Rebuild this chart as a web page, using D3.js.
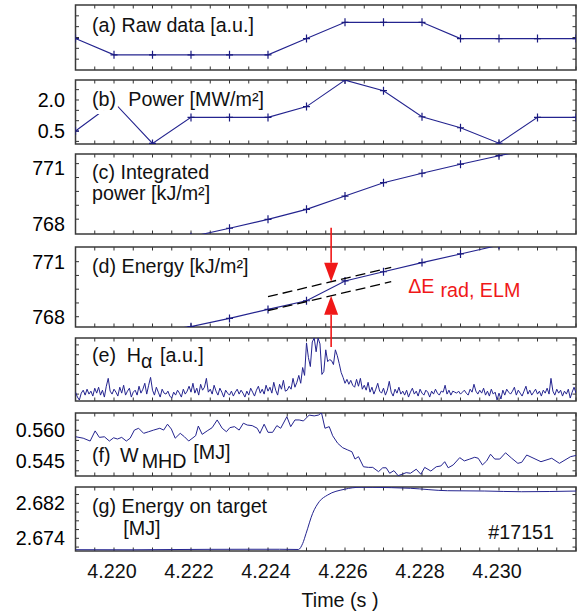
<!DOCTYPE html>
<html>
<head>
<meta charset="utf-8">
<script src="https://cdn.jsdelivr.net/npm/d3@7"></script>
<style>
  body { margin: 0; background: #fff; }
  svg { display: block; font-family: "Liberation Sans", Arial, Helvetica, sans-serif; }
</style>
</head>
<body>
<svg id="chart"></svg>
<script>
// slow signals (a)-(d): one sample per ms
const tSlow    = [4.219, 4.220, 4.221, 4.222, 4.223, 4.224, 4.225, 4.226, 4.227, 4.228, 4.229, 4.230, 4.231, 4.232];
const rawData  = [2.9, 1.4, 1.4, 1.4, 1.4, 1.4, 2.9, 4.4, 4.4, 4.4, 2.9, 2.9, 2.9, 2.9];
const power    = [0.5, 1.88, -0.1, 1.16, 1.16, 1.16, 1.68, 2.96, 2.45, 1.19, 0.66, -0.09, 1.16, 1.16];
const intPower = [766.4, 766.8, 767.0, 767.3, 767.76, 768.24, 768.78, 769.5, 770.22, 770.73, 771.22, 771.68, 772.1, 772.5];
const energy   = [766.6, 766.9, 767.2, 767.46, 767.91, 768.40, 768.87, 769.95, 770.45, 770.95, 771.42, 771.9, 772.3, 772.8];

// dashed fits in (d): [time, energy]
const dashUpper = [[4.2240, 769.09], [4.2272, 770.69]];
const dashLower = [[4.2240, 768.33], [4.2272, 769.91]];
const elmTime = 4.22564;
const arrowTails = [772.85, 766.35];

// H-alpha, sampled every 0.05 ms from 4.219 s
const haStart = 4.219, haStep = 0.00005;
const halpha = [
  0.45,0.2,0.05,0.4,0.55,0.3,0.6,0.35,0.5,0.25,0.65,0.4,0.7,0.3,0.55,0.2,0.75,1.15,0.5,0.35,
  0.6,0.45,0.25,0.7,0.4,0.8,0.3,0.5,0.65,0.2,0.45,0.55,0.3,0.75,0.4,0.6,0.9,0.35,0.8,1.2,
  0.55,0.3,0.7,0.45,0.2,0.6,0.4,0.35,0.5,0.25,0.15,0.45,0.3,0.55,0.4,0.2,0.6,0.35,0.5,0.75,
  0.45,0.9,0.4,0.65,0.3,0.85,0.55,0.7,1.15,0.45,0.6,0.35,0.8,0.5,0.3,0.65,0.45,0.2,0.55,0.4,
  0.3,0.5,0.25,0.45,0.6,0.35,0.55,0.4,0.2,0.5,0.3,0.65,0.45,0.25,0.55,0.75,0.4,0.6,0.35,0.8,
  0.5,0.7,0.4,0.95,0.55,0.3,0.85,0.6,1.05,0.5,
  0.55,0.75,0.6,1.15,0.7,0.95,1.3,0.9,1.7,1.3,2.95,2.2,1.75,3.0,3.2,2.5,3.2,2.9,1.35,1.5,
  2.6,2.0,2.1,2.05,1.85,2.6,2.3,1.9,1.45,1.2,0.9,1.1,0.85,1.05,0.8,0.7,1.1,0.75,1.15,0.6,0.8,
  0.55,0.95,0.45,0.7,0.35,0.6,0.9,0.5,0.4,0.65,0.3,0.55,1.0,0.45,0.25,0.6,0.4,0.7,0.35,0.5,
  0.3,0.55,0.2,0.45,0.65,0.35,0.5,0.25,0.6,0.4,0.3,0.55,0.45,0.2,0.5,0.35,0.6,0.4,0.3,0.5,
  0.45,0.8,0.35,0.55,0.3,0.5,0.45,0.4,0.5,0.35,0.45,0.55,0.4,0.3,0.6,0.45,0.85,0.5,0.35,0.55,
  0.4,0.65,0.3,0.5,0.25,0.6,0.35,0.45,0.05,0.4,0.1,0.55,0.3,0.6,0.45,0.35,0.5,0.7,0.3,0.55,
  0.4,0.25,0.5,0.75,0.35,0.55,0.3,0.45,0.6,0.35,0.5,0.25,0.55,0.4,0.65,0.35,1.15,0.5,0.3,0.6,
  0.4,0.55,0.25,0.5,0.35,0.6,0.15,0.45,0.7,0.4
];

// W_MHD [MJ]
const wmhdT = [
  4.21901,4.21920,4.21938,4.21951,4.21962,4.21975,4.21988,4.21999,4.22009,4.22020,
  4.22032,4.22042,4.22053,4.22064,4.22077,4.22090,4.22103,4.22119,4.22129,4.22139,
  4.22149,4.22159,4.22172,4.22183,4.22194,4.22212,4.22219,4.22229,4.22242,4.22255,
  4.22268,4.22281,4.22292,4.22301,4.22313,4.22325,4.22336,4.22346,4.22359,4.22372,
  4.22379,4.22390,4.22400,4.22412,4.22423,4.22433,4.22449,4.22459,4.22470,4.22481,
  4.22492,4.22507,4.22520,4.22531,4.22539,4.22548,4.22559,4.22568,4.22581,4.22594,
  4.22607,4.22618,4.22626,4.22635,4.22648,4.22661,4.22672,4.22687,4.22698,4.22707,
  4.22716,4.22727,4.22738,4.22748,4.22759,4.22770,4.22785,4.22797,4.22807,4.22823,
  4.22837,4.22849,4.22859,4.22868,4.22881,4.22898,4.22910,4.22924,4.22937,4.22946,
  4.22957,4.22968,4.22978,4.22989,4.23002,4.23017,4.23033,4.23049,4.23059,4.23072,
  4.23109,4.23137,4.23157,4.23186,4.23205
];
const wmhdV = [
  0.5568,0.5561,0.5547,0.5597,0.5565,0.5568,0.5547,0.5563,0.5557,0.5565,
  0.5547,0.5561,0.5601,0.5610,0.5585,0.5593,0.5601,0.5610,0.5601,0.5630,
  0.5606,0.5561,0.5585,0.5568,0.5547,0.5573,0.5621,0.5580,0.5597,0.5613,
  0.5651,0.5610,0.5593,0.5613,0.5618,0.5601,0.5635,0.5626,0.5623,0.5610,
  0.5585,0.5630,0.5590,0.5590,0.5623,0.5610,0.5667,0.5618,0.5651,0.5651,
  0.5646,0.5675,0.5671,0.5675,0.5686,0.5610,0.5618,0.5573,0.5536,0.5514,
  0.5503,0.5494,0.5458,0.5470,0.5420,0.5417,0.5417,0.5396,0.5415,0.5415,
  0.5388,0.5401,0.5376,0.5383,0.5391,0.5388,0.5408,0.5383,0.5417,0.5399,
  0.5420,0.5424,0.5445,0.5415,0.5429,0.5465,0.5449,0.5458,0.5467,0.5462,
  0.5429,0.5449,0.5482,0.5458,0.5458,0.5489,0.5462,0.5437,0.5442,0.5478,
  0.5445,0.5462,0.5437,0.5470,0.5478
];

// energy on target [MJ]
const targetT = [4.2190, 4.2205, 4.2215, 4.2225, 4.2235, 4.2243, 4.22479, 4.22490, 4.22499, 4.22516,
                 4.22533, 4.22555, 4.22598, 4.22642, 4.22672, 4.22770, 4.22866, 4.22963, 4.23059, 4.23205];
const targetV = [2.67140, 2.67138, 2.67143, 2.67148, 2.67150, 2.67150, 2.67145, 2.67280, 2.67514, 2.67971,
                 2.68237, 2.68390, 2.68520, 2.68568, 2.68566, 2.68543, 2.68488, 2.68481, 2.68465, 2.68481];

const xTickLabels = [4.220, 4.222, 4.224, 4.226, 4.228, 4.230];

const width = 578, height = 616;
const blue = "#24248f";
const fontSize = 19.7;

const svg = d3.select("#chart").attr("width", width).attr("height", height);
const x = d3.scaleLinear().domain([4.219, 4.232]).range([75.5, 576]);

// panel layout
const panels = [
  { id: "a", top: 5,   bottom: 70,  domain: [0, 6],              minor: d3.range(0, 6.01, 1),       labels: [] },
  { id: "b", top: 80,  bottom: 144, domain: [-0.126, 2.966],     minor: d3.range(0, 3.01, 0.5),     labels: [2.0, 0.5], fmt: ".1f" },
  { id: "c", top: 154, bottom: 234, domain: [767.45, 771.77],    minor: d3.range(767.5, 772, 0.75), labels: [768, 771], fmt: "d" },
  { id: "d", top: 247, bottom: 327, domain: [767.44, 771.8],     minor: d3.range(767.25, 772, 0.75), labels: [768, 771], fmt: "d" },
  { id: "e", top: 338, bottom: 401, domain: [0, 3.2],            minor: d3.range(0.35, 3.2, 0.5),   labels: [] },
  { id: "f", top: 413, bottom: 476, domain: [0.53745, 0.56853],  minor: d3.range(0.540, 0.568, 0.005), labels: [0.545, 0.560], fmt: ".3f" },
  { id: "g", top: 487, bottom: 551, domain: [2.6711, 2.68573],   minor: d3.range(2.672, 2.6857, 0.002), labels: [2.674, 2.682], fmt: ".3f" }
];

const xMinor = d3.range(4.2195, 4.2320, 0.0005);

panels.forEach(p => {
  p.y = d3.scaleLinear().domain(p.domain).range([p.bottom, p.top]);
  const g = svg.append("g").attr("class", "panel-" + p.id);
  p.g = g;

  svg.append("clipPath").attr("id", "clip-" + p.id)
    .append("rect")
    .attr("x", x.range()[0]).attr("y", p.top)
    .attr("width", x.range()[1] - x.range()[0]).attr("height", p.bottom - p.top);

  // x ticks on top and bottom, pointing in
  g.selectAll(".xt").data(xMinor).enter().append("path")
    .attr("d", d => `M${x(d)},${p.bottom}v-3.5M${x(d)},${p.top}v3.5`)
    .attr("stroke", "#333").attr("stroke-width", 1);

  // y ticks left and right
  g.selectAll(".yt").data(p.minor.filter(v => p.y(v) > p.top + 1 && p.y(v) < p.bottom - 1)).enter().append("path")
    .attr("d", d => `M${x.range()[0]},${p.y(d)}h3.5M${x.range()[1]},${p.y(d)}h-3.5`)
    .attr("stroke", "#333").attr("stroke-width", 1);

  g.selectAll(".yl").data(p.labels).enter().append("text")
    .attr("x", 65).attr("y", d => p.y(d))
    .attr("dy", "0.35em")
    .attr("text-anchor", "end")
    .attr("font-size", fontSize)
    .text(d => d3.format(p.fmt)(d));

  g.append("rect")
    .attr("x", x.range()[0]).attr("y", p.top)
    .attr("width", x.range()[1] - x.range()[0]).attr("height", p.bottom - p.top)
    .attr("fill", "none").attr("stroke", "#3a3a3a").attr("stroke-width", 1.5);

  p.plot = g.append("g").attr("clip-path", `url(#clip-${p.id})`);
});

const P = Object.fromEntries(panels.map(p => [p.id, p]));

// slow signals with + markers
function slowPanel(p, vals) {
  const pts = tSlow.map((t, i) => [t, vals[i]]);
  p.plot.append("path")
    .datum(pts)
    .attr("fill", "none").attr("stroke", blue).attr("stroke-width", 1.1)
    .attr("d", d3.line().x(d => x(d[0])).y(d => p.y(d[1])));
  p.plot.selectAll(".mk").data(pts).enter().append("path")
    .attr("d", d => `M${x(d[0]) - 3.5},${p.y(d[1])}h7M${x(d[0])},${p.y(d[1]) - 4}v8`)
    .attr("stroke", "#1a1a80").attr("stroke-width", 1.2);
}
slowPanel(P.a, rawData);
slowPanel(P.b, power);
slowPanel(P.c, intPower);
slowPanel(P.d, energy);

// dashed fits in (d)
[dashUpper, dashLower].forEach(seg => {
  P.d.plot.append("path")
    .datum(seg)
    .attr("fill", "none").attr("stroke", "#000").attr("stroke-width", 1.3)
    .attr("stroke-dasharray", "10,5")
    .attr("d", d3.line().x(d => x(d[0])).y(d => P.d.y(d[1])));
});

// H-alpha
P.e.plot.append("path")
  .datum(halpha)
  .attr("fill", "none").attr("stroke", blue).attr("stroke-width", 1)
  .attr("d", d3.line().x((d, i) => x(haStart + i * haStep)).y(d => P.e.y(d)));

// W_MHD
P.f.plot.append("path")
  .datum(wmhdT.map((t, i) => [t, wmhdV[i]]))
  .attr("fill", "none").attr("stroke", blue).attr("stroke-width", 1)
  .attr("d", d3.line().x(d => x(d[0])).y(d => P.f.y(d[1])));

// energy on target
P.g.plot.append("path")
  .datum(targetT.map((t, i) => [t, targetV[i]]))
  .attr("fill", "none").attr("stroke", blue).attr("stroke-width", 1)
  .attr("d", d3.line().curve(d3.curveMonotoneX).x(d => x(d[0])).y(d => P.g.y(d[1])));

// red ELM arrows (tips sit on the dashed fits)
const interp = (seg, t) => seg[0][1] + (seg[1][1] - seg[0][1]) * (t - seg[0][0]) / (seg[1][0] - seg[0][0]);
const red = "#f01818";
const ax = x(elmTime);
[[arrowTails[0], interp(dashUpper, elmTime)], [arrowTails[1], interp(dashLower, elmTime)]].forEach(([tail, tip]) => {
  const y0 = P.d.y(tail), y1 = P.d.y(tip);
  const dir = Math.sign(y1 - y0);
  const base = y1 - dir * 19;
  svg.append("line")
    .attr("x1", ax).attr("x2", ax).attr("y1", y0).attr("y2", base)
    .attr("stroke", red).attr("stroke-width", 1.6);
  svg.append("path")
    .attr("d", `M${ax - 7},${base}L${ax + 7},${base}L${ax},${y1}Z`)
    .attr("fill", red);
});

const dE = svg.append("text")
  .attr("x", x(4.22764)).attr("y", P.d.y(769.28))
  .attr("font-size", fontSize).attr("fill", red);
dE.append("tspan").text("ΔE");
dE.append("tspan").attr("dx", 6).attr("dy", 4).text("rad, ELM");

// panel labels
function label(px, py, txt, opts = {}) {
  const t = svg.append("text")
    .attr("x", px).attr("y", py)
    .attr("font-size", fontSize).attr("fill", "#111")
    .text(txt);
  if (opts.halo) t.attr("stroke", "#fff").attr("stroke-width", 8).attr("paint-order", "stroke");
  if (opts.anchor) t.attr("text-anchor", opts.anchor);
  return t;
}
label(92, 31.7, "(a) Raw data [a.u.]");
label(92, 106, "(b)", { halo: true });
label(128.3, 106, "Power [MW/m²]");
label(92, 179.3, "(c) Integrated");
label(92, 200, "power [kJ/m²]");
label(92, 273.3, "(d) Energy [kJ/m²]");
label(92, 362, "(e)");
label(126.7, 362, "H").append("tspan").attr("dy", 6).text("α");
label(160, 362, "[a.u.]");
label(92, 461.7, "(f)");
label(120, 461.7, "W");
label(141.7, 468.3, "MHD");
label(193.3, 458.5, "[MJ]");
label(92, 513.3, "(g) Energy on target");
label(123.3, 535, "[MJ]");
label(554, 539, "#17151", { anchor: "end" });

// bottom time axis
svg.selectAll(".xl").data(xTickLabels).enter().append("text")
  .attr("x", d => x(d) - 2).attr("y", 578)
  .attr("text-anchor", "middle")
  .attr("font-size", fontSize).attr("fill", "#111")
  .text(d => d3.format(".3f")(d));

label(340, 607.3, "Time (s )", { anchor: "middle" });
</script>
</body>
</html>
